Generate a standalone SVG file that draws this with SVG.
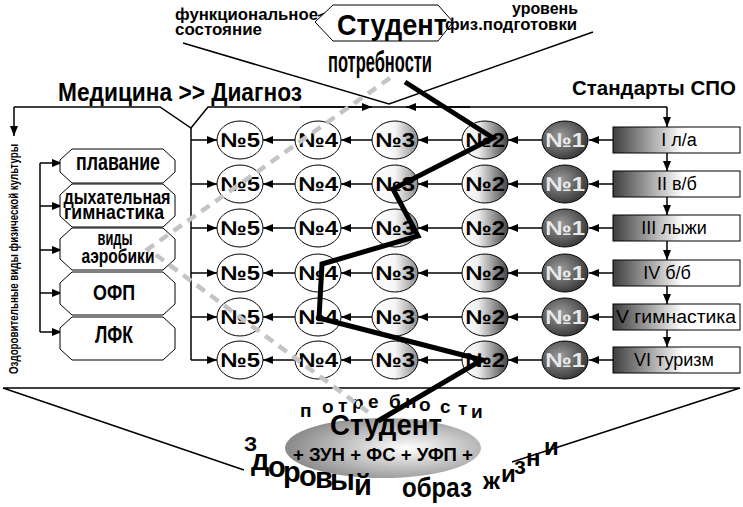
<svg xmlns="http://www.w3.org/2000/svg" width="743" height="507" viewBox="0 0 743 507">
<style>
text{font-family:"Liberation Sans",Arial,sans-serif;font-weight:bold;fill:#000}
.ln{stroke:#000;stroke-width:1.5;fill:none}
.ar{stroke:#000;stroke-width:1.5;fill:none;marker-end:url(#ah)}
.el{stroke:#000;stroke-width:1}
.w{fill:#fff}
.g1{fill:url(#g1)}
.g2{fill:url(#g2)}
.g3{fill:url(#g3)}
.oct{fill:#fff;stroke:#000;stroke-width:1}
.num{font-size:20px;text-anchor:middle}
.num1{font-size:20px;text-anchor:middle;fill:#e8e8e8}
.box{stroke:#000;stroke-width:1;fill:url(#gbox)}
.bt{font-size:18px;font-weight:normal;text-anchor:middle}
.lt{text-anchor:middle}
.zig{stroke:#000;stroke-width:5;fill:none;stroke-linejoin:miter}
.dash{stroke:#c4c4c4;stroke-width:4.5;fill:none;stroke-dasharray:10 7}
</style>
<defs>
<marker id="ah" markerUnits="userSpaceOnUse" markerWidth="10" markerHeight="8" refX="10" refY="4" orient="auto"><path d="M0,0 L10,4 L0,8 z" fill="#000"/></marker>
<radialGradient id="g1" cx="0.4" cy="0.4" r="0.7"><stop offset="0" stop-color="#9c9c9c"/><stop offset="1" stop-color="#2e2e2e"/></radialGradient>
<linearGradient id="g2" x1="0" y1="0" x2="1" y2="0"><stop offset="0" stop-color="#fff"/><stop offset="0.35" stop-color="#eee"/><stop offset="1" stop-color="#444"/></linearGradient>
<linearGradient id="g3" x1="0" y1="0" x2="1" y2="0"><stop offset="0" stop-color="#fff"/><stop offset="0.5" stop-color="#f6f6f6"/><stop offset="1" stop-color="#8a8a8a"/></linearGradient>
<linearGradient id="gbox" x1="0" y1="0" x2="1" y2="0"><stop offset="0" stop-color="#3e3e3e"/><stop offset="0.55" stop-color="#fff"/><stop offset="1" stop-color="#fff"/></linearGradient>
<radialGradient id="gst" cx="0.62" cy="0.5" r="0.6"><stop offset="0" stop-color="#fff"/><stop offset="1" stop-color="#8c8c8c"/></radialGradient>
</defs>

<g id="connectors">
<path class="ln" d="M183,43 L389,104 L593,32"/>
<line class="ln" x1="318" y1="16" x2="328" y2="12"/>
<path class="ln" d="M14,107 H160 L191,128 L208,107 H667"/>
<line class="ar" x1="14" y1="107" x2="14" y2="136"/>
<line class="ar" x1="300" y1="107" x2="372" y2="107"/>
<line class="ar" x1="470" y1="107" x2="406" y2="107"/>
<line class="ar" x1="667" y1="107" x2="667" y2="127"/>
<line class="ar" x1="667" y1="153" x2="667" y2="171"/>
<line class="ar" x1="667" y1="197" x2="667" y2="215"/>
<line class="ar" x1="667" y1="241" x2="667" y2="260"/>
<line class="ar" x1="667" y1="286" x2="667" y2="304"/>
<line class="ar" x1="667" y1="330" x2="667" y2="347"/>
<line class="ln" x1="191" y1="128" x2="191" y2="360"/>
<line class="ar" x1="191" y1="140" x2="217" y2="140"/>
<line class="ar" x1="191" y1="184" x2="217" y2="184"/>
<line class="ar" x1="191" y1="228" x2="217" y2="228"/>
<line class="ar" x1="191" y1="273" x2="217" y2="273"/>
<line class="ar" x1="191" y1="317" x2="217" y2="317"/>
<line class="ar" x1="191" y1="360" x2="217" y2="360"/>
<line class="ln" x1="40" y1="163" x2="40" y2="332"/>
<line class="ar" x1="40" y1="163" x2="62" y2="163"/>
<line class="ar" x1="40" y1="206" x2="62" y2="206"/>
<line class="ar" x1="40" y1="250" x2="62" y2="250"/>
<line class="ar" x1="40" y1="293" x2="62" y2="293"/>
<line class="ar" x1="40" y1="332" x2="62" y2="332"/>
<g id="row-arrows">
<line class="ar" x1="613" y1="140" x2="589" y2="140"/><line class="ar" x1="542" y1="140" x2="508" y2="140"/><line class="ar" x1="462" y1="140" x2="418" y2="140"/><line class="ar" x1="372" y1="140" x2="341" y2="140"/><line class="ar" x1="295" y1="140" x2="263" y2="140"/>
<line class="ar" x1="613" y1="184" x2="589" y2="184"/><line class="ar" x1="542" y1="184" x2="508" y2="184"/><line class="ar" x1="462" y1="184" x2="418" y2="184"/><line class="ar" x1="372" y1="184" x2="341" y2="184"/><line class="ar" x1="295" y1="184" x2="263" y2="184"/>
<line class="ar" x1="613" y1="228" x2="589" y2="228"/><line class="ar" x1="542" y1="228" x2="508" y2="228"/><line class="ar" x1="462" y1="228" x2="418" y2="228"/><line class="ar" x1="372" y1="228" x2="341" y2="228"/><line class="ar" x1="295" y1="228" x2="263" y2="228"/>
<line class="ar" x1="613" y1="273" x2="589" y2="273"/><line class="ar" x1="542" y1="273" x2="508" y2="273"/><line class="ar" x1="462" y1="273" x2="418" y2="273"/><line class="ar" x1="372" y1="273" x2="341" y2="273"/><line class="ar" x1="295" y1="273" x2="263" y2="273"/>
<line class="ar" x1="613" y1="317" x2="589" y2="317"/><line class="ar" x1="542" y1="317" x2="508" y2="317"/><line class="ar" x1="462" y1="317" x2="418" y2="317"/><line class="ar" x1="372" y1="317" x2="341" y2="317"/><line class="ar" x1="295" y1="317" x2="263" y2="317"/>
<line class="ar" x1="613" y1="360" x2="589" y2="360"/><line class="ar" x1="542" y1="360" x2="508" y2="360"/><line class="ar" x1="462" y1="360" x2="418" y2="360"/><line class="ar" x1="372" y1="360" x2="341" y2="360"/><line class="ar" x1="295" y1="360" x2="263" y2="360"/>
</g>
<path class="ln" d="M244,470 L3,388 H740 L512,462"/>
</g>

<g id="top-student">
<polygon class="oct" points="333,5 438,5 453,22 438,41 333,41 315,22"/>
<text x="337" y="35" font-size="30" textLength="110" lengthAdjust="spacingAndGlyphs">Студент</text>
</g>
<text x="175" y="20" font-size="17" textLength="143" lengthAdjust="spacingAndGlyphs">функциональное</text>
<text x="175" y="35" font-size="17" textLength="87" lengthAdjust="spacingAndGlyphs">состояние</text>
<text x="512" y="14" font-size="17" textLength="66" lengthAdjust="spacingAndGlyphs">уровень</text>
<text x="445" y="30" font-size="17" textLength="132" lengthAdjust="spacingAndGlyphs">физ.подготовки</text>
<text x="328" y="72" font-size="30" textLength="104" lengthAdjust="spacingAndGlyphs">потребности</text>
<text x="58" y="101" font-size="26" textLength="244" lengthAdjust="spacingAndGlyphs">Медицина &gt;&gt; Диагноз</text>
<text x="572" y="95" font-size="21" textLength="164" lengthAdjust="spacingAndGlyphs">Стандарты СПО</text>
<text transform="translate(18,259) rotate(-90)" font-size="13" text-anchor="middle" textLength="230" lengthAdjust="spacingAndGlyphs">Оздоровительные виды физической культуры</text>

<g id="o-plavanie"><polygon class="oct" points="72,149 163,149 175,160 175,172 163,183 72,183 60,172 60,160"/><text x="118" y="170" font-size="23" class="lt" textLength="84" lengthAdjust="spacingAndGlyphs">плавание</text></g>
<g id="o-dyh"><polygon class="oct" points="72,184 163,184 175,195 175,216 163,227 72,227 60,216 60,195"/><text x="117" y="204" font-size="20" class="lt" textLength="107" lengthAdjust="spacingAndGlyphs">дыхательная</text><text x="114" y="219" font-size="20" class="lt" textLength="100" lengthAdjust="spacingAndGlyphs">гимнастика</text></g>
<g id="o-aerob"><polygon class="oct" points="72,228 163,228 175,239 175,259 163,270 72,270 60,259 60,239"/><text x="115" y="245" font-size="21" class="lt" textLength="35" lengthAdjust="spacingAndGlyphs">виды</text><text x="118" y="263" font-size="21" class="lt" textLength="73" lengthAdjust="spacingAndGlyphs">аэробики</text></g>
<g id="o-ofp"><polygon class="oct" points="72,272 163,272 175,283 175,304 163,315 72,315 60,304 60,283"/><text x="114" y="300" font-size="22" class="lt" textLength="42" lengthAdjust="spacingAndGlyphs">ОФП</text></g>
<g id="o-lfk"><polygon class="oct" points="72,317 163,317 175,328 175,349 163,360 72,360 60,349 60,328"/><text x="114" y="343" font-size="23" class="lt" textLength="38" lengthAdjust="spacingAndGlyphs">ЛФК</text></g>

<g id="b1"><rect class="box" x="613" y="127" width="127" height="26"/><text class="bt" x="679" y="146">I л/а</text></g>
<g id="b2"><rect class="box" x="613" y="171" width="127" height="26"/><text class="bt" x="677" y="190">II в/б</text></g>
<g id="b3"><rect class="box" x="613" y="215" width="127" height="26"/><text class="bt" x="674" y="234">III лыжи</text></g>
<g id="b4"><rect class="box" x="613" y="260" width="127" height="26"/><text class="bt" x="667" y="279">IV б/б</text></g>
<g id="b5"><rect class="box" x="613" y="304" width="127" height="26"/><text class="bt" x="676" y="323" textLength="120" lengthAdjust="spacingAndGlyphs">V гимнастика</text></g>
<g id="b6"><rect class="box" x="613" y="347" width="127" height="26"/><text class="bt" x="674" y="366">VI туризм</text></g>

<g id="r1c5"><ellipse class="el w" cx="240" cy="140" rx="23" ry="19"/><text class="num" x="240" y="147" textLength="40" lengthAdjust="spacingAndGlyphs">№5</text></g>
<g id="r1c4"><ellipse class="el w" cx="318" cy="140" rx="23" ry="19"/><text class="num" x="318" y="147" textLength="40" lengthAdjust="spacingAndGlyphs">№4</text></g>
<g id="r1c3"><ellipse class="el g3" cx="395" cy="140" rx="23" ry="19"/><text class="num" x="395" y="147" textLength="40" lengthAdjust="spacingAndGlyphs">№3</text></g>
<g id="r1c2"><ellipse class="el g2" cx="485" cy="140" rx="23" ry="19"/><text class="num" x="485" y="147" textLength="40" lengthAdjust="spacingAndGlyphs">№2</text></g>
<g id="r1c1"><ellipse class="el g1" cx="565" cy="140" rx="23" ry="19"/><text class="num1" x="565" y="147" textLength="40" lengthAdjust="spacingAndGlyphs">№1</text></g>

<g id="r2c5"><ellipse class="el w" cx="240" cy="184" rx="23" ry="19"/><text class="num" x="240" y="191" textLength="40" lengthAdjust="spacingAndGlyphs">№5</text></g>
<g id="r2c4"><ellipse class="el w" cx="318" cy="184" rx="23" ry="19"/><text class="num" x="318" y="191" textLength="40" lengthAdjust="spacingAndGlyphs">№4</text></g>
<g id="r2c3"><ellipse class="el g3" cx="395" cy="184" rx="23" ry="19"/><text class="num" x="395" y="191" textLength="40" lengthAdjust="spacingAndGlyphs">№3</text></g>
<g id="r2c2"><ellipse class="el g2" cx="485" cy="184" rx="23" ry="19"/><text class="num" x="485" y="191" textLength="40" lengthAdjust="spacingAndGlyphs">№2</text></g>
<g id="r2c1"><ellipse class="el g1" cx="565" cy="184" rx="23" ry="19"/><text class="num1" x="565" y="191" textLength="40" lengthAdjust="spacingAndGlyphs">№1</text></g>

<g id="r3c5"><ellipse class="el w" cx="240" cy="228" rx="23" ry="19"/><text class="num" x="240" y="235" textLength="40" lengthAdjust="spacingAndGlyphs">№5</text></g>
<g id="r3c4"><ellipse class="el w" cx="318" cy="228" rx="23" ry="19"/><text class="num" x="318" y="235" textLength="40" lengthAdjust="spacingAndGlyphs">№4</text></g>
<g id="r3c3"><ellipse class="el g3" cx="395" cy="228" rx="23" ry="19"/><text class="num" x="395" y="235" textLength="40" lengthAdjust="spacingAndGlyphs">№3</text></g>
<g id="r3c2"><ellipse class="el g2" cx="485" cy="228" rx="23" ry="19"/><text class="num" x="485" y="235" textLength="40" lengthAdjust="spacingAndGlyphs">№2</text></g>
<g id="r3c1"><ellipse class="el g1" cx="565" cy="228" rx="23" ry="19"/><text class="num1" x="565" y="235" textLength="40" lengthAdjust="spacingAndGlyphs">№1</text></g>

<g id="r4c5"><ellipse class="el w" cx="240" cy="273" rx="23" ry="19"/><text class="num" x="240" y="280" textLength="40" lengthAdjust="spacingAndGlyphs">№5</text></g>
<g id="r4c4"><ellipse class="el w" cx="318" cy="273" rx="23" ry="19"/><text class="num" x="318" y="280" textLength="40" lengthAdjust="spacingAndGlyphs">№4</text></g>
<g id="r4c3"><ellipse class="el g3" cx="395" cy="273" rx="23" ry="19"/><text class="num" x="395" y="280" textLength="40" lengthAdjust="spacingAndGlyphs">№3</text></g>
<g id="r4c2"><ellipse class="el g2" cx="485" cy="273" rx="23" ry="19"/><text class="num" x="485" y="280" textLength="40" lengthAdjust="spacingAndGlyphs">№2</text></g>
<g id="r4c1"><ellipse class="el g1" cx="565" cy="273" rx="23" ry="19"/><text class="num1" x="565" y="280" textLength="40" lengthAdjust="spacingAndGlyphs">№1</text></g>

<g id="r5c5"><ellipse class="el w" cx="240" cy="317" rx="23" ry="19"/><text class="num" x="240" y="324" textLength="40" lengthAdjust="spacingAndGlyphs">№5</text></g>
<g id="r5c4"><ellipse class="el w" cx="318" cy="317" rx="23" ry="19"/><text class="num" x="318" y="324" textLength="40" lengthAdjust="spacingAndGlyphs">№4</text></g>
<g id="r5c3"><ellipse class="el g3" cx="395" cy="317" rx="23" ry="19"/><text class="num" x="395" y="324" textLength="40" lengthAdjust="spacingAndGlyphs">№3</text></g>
<g id="r5c2"><ellipse class="el g2" cx="485" cy="317" rx="23" ry="19"/><text class="num" x="485" y="324" textLength="40" lengthAdjust="spacingAndGlyphs">№2</text></g>
<g id="r5c1"><ellipse class="el g1" cx="565" cy="317" rx="23" ry="19"/><text class="num1" x="565" y="324" textLength="40" lengthAdjust="spacingAndGlyphs">№1</text></g>

<g id="r6c5"><ellipse class="el w" cx="240" cy="360" rx="23" ry="19"/><text class="num" x="240" y="367" textLength="40" lengthAdjust="spacingAndGlyphs">№5</text></g>
<g id="r6c4"><ellipse class="el w" cx="318" cy="360" rx="23" ry="19"/><text class="num" x="318" y="367" textLength="40" lengthAdjust="spacingAndGlyphs">№4</text></g>
<g id="r6c3"><ellipse class="el g3" cx="395" cy="360" rx="23" ry="19"/><text class="num" x="395" y="367" textLength="40" lengthAdjust="spacingAndGlyphs">№3</text></g>
<g id="r6c2"><ellipse class="el g2" cx="485" cy="360" rx="23" ry="19"/><text class="num" x="485" y="367" textLength="40" lengthAdjust="spacingAndGlyphs">№2</text></g>
<g id="r6c1"><ellipse class="el g1" cx="565" cy="360" rx="23" ry="19"/><text class="num1" x="565" y="367" textLength="40" lengthAdjust="spacingAndGlyphs">№1</text></g>

<g id="bottom-student">
<ellipse cx="383" cy="448" rx="98" ry="30" fill="url(#gst)"/>
<text x="330" y="435" font-size="29" textLength="112" lengthAdjust="spacingAndGlyphs">Студент</text>
<text x="293" y="461" font-size="19" textLength="180" lengthAdjust="spacingAndGlyphs">+ ЗУН + ФС + УФП +</text>
</g>
<text font-size="19" x="300 322 338 352 368 389 405 419 440 458 471" y="417 413 412 409 408 408 408 411 413 415 418">потребности</text>
<text font-size="21" x="244" y="451">З</text>
<text font-size="29" x="251 268 283 299 315 330 354" y="470 477 482 486 488 490 495">доровый</text>
<text font-size="28" x="402" y="497" textLength="70" lengthAdjust="spacingAndGlyphs">образ</text>
<text font-size="24" x="483 501 514 526 544" y="489 482 474 466 455">жизни</text>

<g id="overlay">
<path class="dash" d="M390,78 L148,249 L368,412"/>
<path class="zig" d="M405,82 L493,138 L393,189 L418,236 L322,264 L319,318 L482,360 L378,421"/>
</g>
</svg>
